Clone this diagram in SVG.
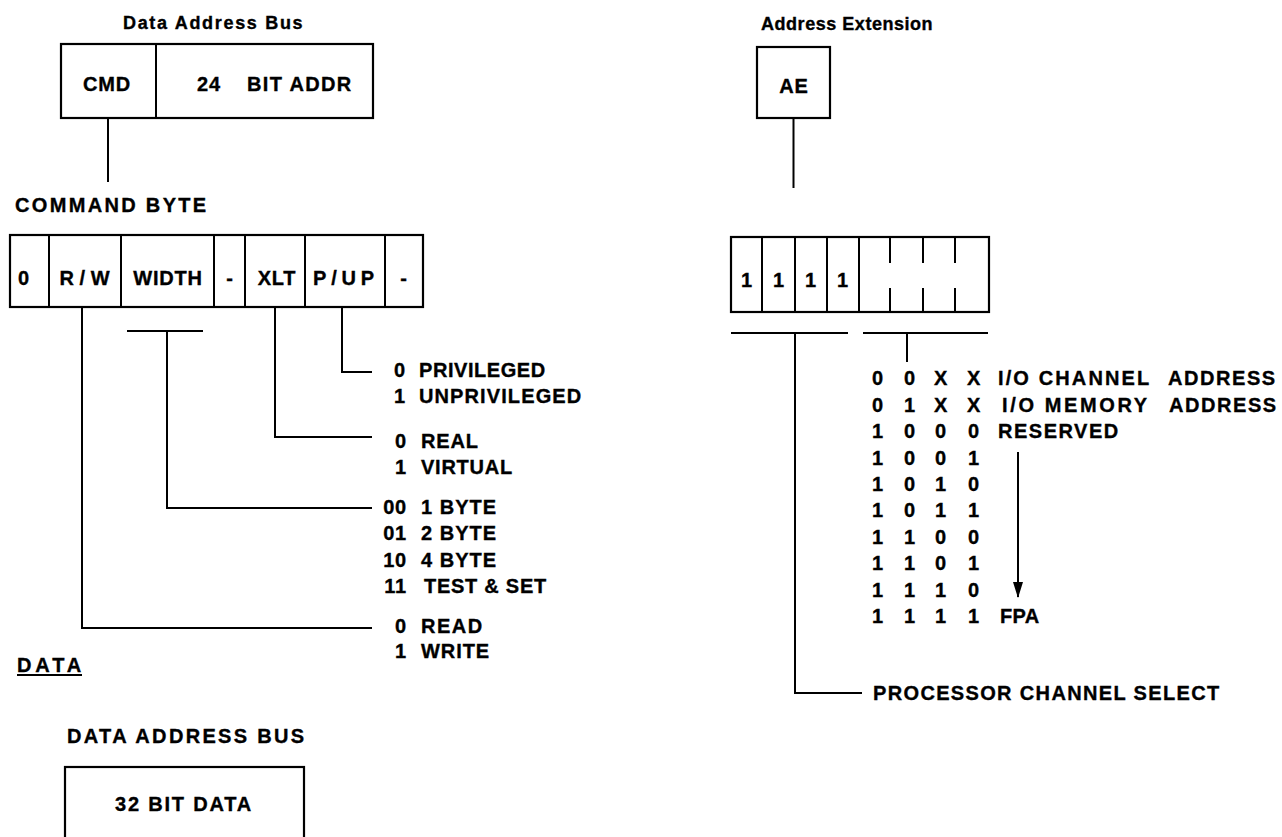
<svg xmlns="http://www.w3.org/2000/svg" width="1282" height="837" viewBox="0 0 1282 837">
<style>
.t{font-family:"Liberation Sans",Arial,Helvetica,sans-serif;font-weight:bold;font-size:20px;letter-spacing:0.8px;fill:#000;stroke:#000;stroke-width:0.35px}
.ti{font-size:18px;letter-spacing:0.4px}
.m{text-anchor:middle}
.e{text-anchor:end}
.box{fill:none;stroke:#000;stroke-width:2.2}
.ln{fill:none;stroke:#000;stroke-width:2}
</style>
<defs>
<marker id="ah" markerWidth="16" markerHeight="10" refX="15" refY="5" orient="auto" markerUnits="userSpaceOnUse" viewBox="0 0 16 10">
<path d="M0,0 L16,5 L0,10 Z" fill="#000"/>
</marker>
</defs>
<rect width="1282" height="837" fill="#fff"/>

<g id="data-address-bus">
<text class="t ti" x="123" y="29" textLength="180">Data Address Bus</text>
<rect class="box" x="61" y="44" width="312" height="74"/>
<line class="ln" x1="156" y1="44" x2="156" y2="118"/>
<text class="t m" x="107" y="91">CMD</text>
<text class="t" x="197" y="91">24</text>
<text class="t" x="247" y="91" textLength="105">BIT ADDR</text>
</g>

<g id="command-byte">
<text class="t" x="15" y="212" font-size="22" textLength="192">COMMAND BYTE</text>
<rect class="box" x="10" y="235" width="413" height="72"/>
<line class="ln" x1="49" y1="235" x2="49" y2="307"/>
<line class="ln" x1="121" y1="235" x2="121" y2="307"/>
<line class="ln" x1="214" y1="235" x2="214" y2="307"/>
<line class="ln" x1="245" y1="235" x2="245" y2="307"/>
<line class="ln" x1="305" y1="235" x2="305" y2="307"/>
<line class="ln" x1="385" y1="235" x2="385" y2="307"/>
<text class="t m" x="24" y="285">0</text>
<text class="t m" x="85" y="285" textLength="51">R/W</text>
<text class="t m" x="168" y="285">WIDTH</text>
<text class="t m" x="230" y="285">-</text>
<text class="t m" x="277" y="285">XLT</text>
<text class="t m" x="344" y="285" textLength="62">P/UP</text>
<text class="t m" x="404" y="285">-</text>
</g>

<g id="pup-values">
<text class="t e" x="406" y="377">0</text>
<text class="t" x="419" y="377" textLength="127">PRIVILEGED</text>
<text class="t e" x="406" y="403">1</text>
<text class="t" x="419" y="403" textLength="163">UNPRIVILEGED</text>
</g>
<g id="xlt-values">
<text class="t e" x="407" y="448">0</text>
<text class="t" x="421" y="448">REAL</text>
<text class="t e" x="407" y="474">1</text>
<text class="t" x="421" y="474" textLength="92">VIRTUAL</text>
</g>
<g id="width-values">
<text class="t e" x="407" y="514">00</text>
<text class="t" x="421" y="514" textLength="76">1 BYTE</text>
<text class="t e" x="407" y="540">01</text>
<text class="t" x="421" y="540" textLength="76">2 BYTE</text>
<text class="t e" x="407" y="567">10</text>
<text class="t" x="421" y="567" textLength="76">4 BYTE</text>
<text class="t e" x="407" y="593">11</text>
<text class="t" x="424" y="593" textLength="123">TEST &amp; SET</text>
</g>
<g id="rw-values">
<text class="t e" x="407" y="633">0</text>
<text class="t" x="421" y="633" textLength="62">READ</text>
<text class="t e" x="407" y="658">1</text>
<text class="t" x="421" y="658" textLength="69">WRITE</text>
</g>

<g id="data-heading">
<text class="t" x="17" y="672" textLength="65">DATA</text>
<line class="ln" x1="17" y1="675" x2="82" y2="675"/>
</g>

<g id="data-bus">
<text class="t" x="67" y="743" textLength="238">DATA  ADDRESS BUS</text>
<rect class="box" x="65" y="767" width="239" height="100"/>
<text class="t" x="115" y="811" textLength="137">32 BIT DATA</text>
</g>

<g id="address-extension">
<text class="t ti" x="761" y="30" textLength="172">Address Extension</text>
<rect class="box" x="757" y="47" width="73" height="71"/>
<text class="t m" x="794" y="93">AE</text>
</g>

<g id="ae-byte">
<rect class="box" x="731" y="237" width="258" height="75"/>
<line class="ln" x1="762" y1="237" x2="762" y2="312"/>
<line class="ln" x1="795" y1="237" x2="795" y2="312"/>
<line class="ln" x1="827" y1="237" x2="827" y2="312"/>
<line class="ln" x1="859" y1="237" x2="859" y2="312"/>
<path class="ln" d="M890,237 V263 M890,288 V312 M923,237 V263 M923,288 V312 M955,237 V263 M955,288 V312"/>
<text class="t m" x="747" y="287">1</text>
<text class="t m" x="779" y="287">1</text>
<text class="t m" x="811" y="287">1</text>
<text class="t m" x="843" y="287">1</text>
</g>

<g id="ae-table">
<text class="t m" y="385"><tspan x="878">0</tspan><tspan x="910">0</tspan><tspan x="941">X</tspan><tspan x="974">X</tspan></text>
<text class="t" x="998" y="385" textLength="152">I/O CHANNEL</text>
<text class="t" x="1168" y="385" textLength="108">ADDRESS</text>
<text class="t m" y="412"><tspan x="878">0</tspan><tspan x="910">1</tspan><tspan x="941">X</tspan><tspan x="974">X</tspan></text>
<text class="t" x="1002" y="412" textLength="146">I/O MEMORY</text>
<text class="t" x="1169" y="412" textLength="108">ADDRESS</text>
<text class="t m" y="438"><tspan x="878">1</tspan><tspan x="910">0</tspan><tspan x="941">0</tspan><tspan x="974">0</tspan></text>
<text class="t" x="998" y="438" textLength="121">RESERVED</text>
<text class="t m" y="465"><tspan x="878">1</tspan><tspan x="910">0</tspan><tspan x="941">0</tspan><tspan x="974">1</tspan></text>
<text class="t m" y="491"><tspan x="878">1</tspan><tspan x="910">0</tspan><tspan x="941">1</tspan><tspan x="974">0</tspan></text>
<text class="t m" y="517"><tspan x="878">1</tspan><tspan x="910">0</tspan><tspan x="941">1</tspan><tspan x="974">1</tspan></text>
<text class="t m" y="544"><tspan x="878">1</tspan><tspan x="910">1</tspan><tspan x="941">0</tspan><tspan x="974">0</tspan></text>
<text class="t m" y="570"><tspan x="878">1</tspan><tspan x="910">1</tspan><tspan x="941">0</tspan><tspan x="974">1</tspan></text>
<text class="t m" y="597"><tspan x="878">1</tspan><tspan x="910">1</tspan><tspan x="941">1</tspan><tspan x="974">0</tspan></text>
<text class="t m" y="623"><tspan x="878">1</tspan><tspan x="910">1</tspan><tspan x="941">1</tspan><tspan x="974">1</tspan></text>
<text class="t" x="1000" y="623" textLength="40">FPA</text>
</g>

<g id="processor-channel-select">
<text class="t" x="873" y="700" textLength="347">PROCESSOR CHANNEL SELECT</text>
</g>

<g id="connectors">
<line class="ln" x1="108" y1="118" x2="108" y2="182"/>
<polyline class="ln" points="82,307 82,628 372,628"/>
<line class="ln" x1="127" y1="331" x2="203" y2="331"/>
<polyline class="ln" points="167,331 167,508 372,508"/>
<polyline class="ln" points="275,307 275,437 372,437"/>
<polyline class="ln" points="342,307 342,372 372,372"/>
<line class="ln" x1="793.5" y1="118" x2="793.5" y2="188"/>
<line class="ln" x1="731" y1="333" x2="848" y2="333"/>
<line class="ln" x1="863" y1="333" x2="988" y2="333"/>
<line class="ln" x1="907" y1="333" x2="907" y2="362"/>
<polyline class="ln" points="795,333 795,693 862,693"/>
<line class="ln" x1="1018" y1="452" x2="1018" y2="597" marker-end="url(#ah)"/>
</g>
</svg>
